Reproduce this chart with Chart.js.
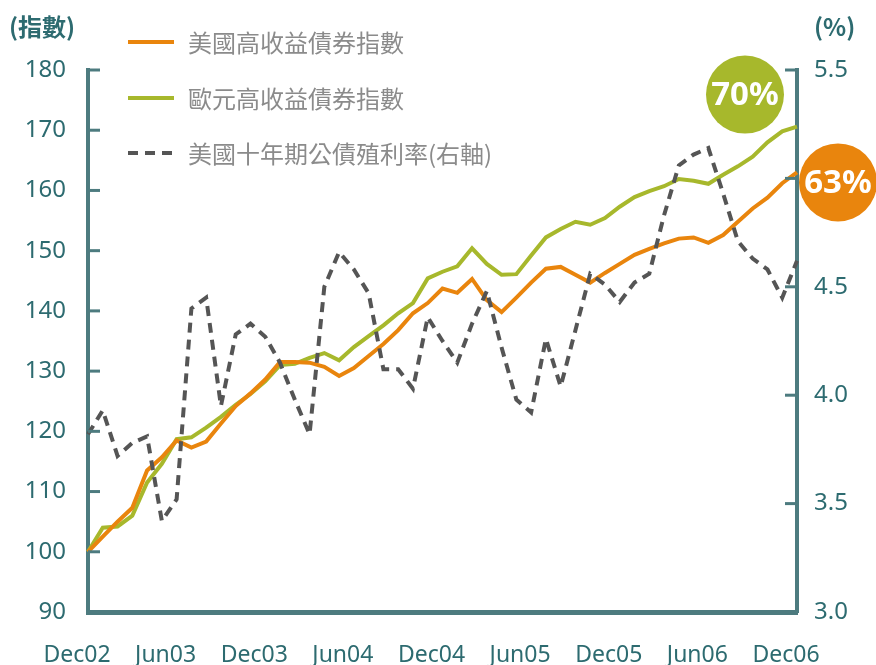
<!DOCTYPE html>
<html>
<head>
<meta charset="utf-8">
<script src="https://cdn.jsdelivr.net/npm/chart.js@4.4.1/dist/chart.umd.min.js"></script>
<style>
html, body { margin: 0; padding: 0; background: #fff; }
canvas { display: block; }
</style>
</head>
<body>
<canvas id="chart" width="876" height="665"></canvas>
<script>
// monthly, Dec02 .. Dec06
const months = [
  'Dec02','Jan03','Feb03','Mar03','Apr03','May03','Jun03','Jul03','Aug03','Sep03','Oct03','Nov03',
  'Dec03','Jan04','Feb04','Mar04','Apr04','May04','Jun04','Jul04','Aug04','Sep04','Oct04','Nov04',
  'Dec04','Jan05','Feb05','Mar05','Apr05','May05','Jun05','Jul05','Aug05','Sep05','Oct05','Nov05',
  'Dec05','Jan06','Feb06','Mar06','Apr06','May06','Jun06','Jul06','Aug06','Sep06','Oct06','Nov06',
  'Dec06'
];

const usHighYield = [
  100, 102.5, 105, 107.3, 113.5, 115.7, 118.5, 117.3, 118.3, 121.3, 124.2, 126.3,
  128.6, 131.5, 131.5, 131.4, 130.7, 129.2, 130.5, 132.5, 134.5, 136.8, 139.6, 141.3,
  143.7, 143.0, 145.3, 141.8, 139.8, 142.2, 144.7, 147.0, 147.3, 146.0, 144.7, 146.3,
  147.8, 149.3, 150.3, 151.2, 152.0, 152.2, 151.3, 152.6, 154.8, 157.0, 158.8, 161.2,
  163.0
];

const euroHighYield = [
  100, 104, 104.2, 106, 111.5, 114.6, 118.7, 119.0, 120.6, 122.4, 124.4, 126.2,
  128.3, 131, 131.2, 132.2, 133.0, 131.8, 134.0, 135.8, 137.6, 139.6, 141.3, 145.4,
  146.5, 147.4, 150.4, 147.8, 146.0, 146.1, 149.2, 152.2, 153.6, 154.8, 154.3, 155.4,
  157.3, 158.9, 159.9, 160.7, 161.9, 161.6, 161.1, 162.6, 164.0, 165.6, 168.0, 169.8,
  170.6
];

// right axis, %
const us10yYield = [
  3.82, 3.93, 3.72, 3.78, 3.81, 3.42, 3.52, 4.40, 4.45, 3.95, 4.28, 4.33,
  4.27, 4.15, 3.98, 3.82, 4.50, 4.66, 4.58, 4.47, 4.12, 4.12, 4.03, 4.36,
  4.25, 4.15, 4.33, 4.48, 4.22, 3.98, 3.92, 4.26, 4.04, 4.30, 4.56, 4.51,
  4.43, 4.52, 4.56, 4.83, 5.06, 5.11, 5.14, 4.93, 4.71, 4.63, 4.58, 4.45,
  4.62
];

const seriesNames = ['美國高收益債券指數', '歐元高收益債券指數', '美國十年期公債殖利率(右軸)'];
const bubbleLabels = ['63%', '70%'];

const orange = '#e9850d';
const green = '#a7b82c';
const grey = '#555555';
const axisColor = '#4d7b7f';
const tickColor = '#2d6b70';
const legendColor = '#8b8b8b';
const numFont = '"Noto Sans", "Open Sans", sans-serif';
const narrowFont = '"Liberation Sans Narrow", "Noto Sans", sans-serif';
const cjkFont = '"Noto Sans CJK TC", "Noto Sans", sans-serif';

const decor = {
  id: 'decor',
  afterDraw(chart) {
    const ctx = chart.ctx;
    const { x, y, y2 } = chart.scales;
    ctx.save();

    // inward tick marks
    ctx.strokeStyle = axisColor;
    ctx.lineWidth = 3;
    y.ticks.forEach(t => {
      const py = y.getPixelForValue(t.value);
      ctx.beginPath(); ctx.moveTo(y.right, py); ctx.lineTo(y.right + 12, py); ctx.stroke();
    });
    y2.ticks.forEach(t => {
      const py = y2.getPixelForValue(t.value);
      ctx.beginPath(); ctx.moveTo(y2.left, py); ctx.lineTo(y2.left - 12, py); ctx.stroke();
    });

    // axis titles
    ctx.fillStyle = tickColor;
    ctx.font = 'bold 24px ' + cjkFont;
    ctx.textBaseline = 'middle';
    ctx.textAlign = 'left';
    ctx.fillText('(指數)', 9, 27);
    ctx.fillText('(%)', 814, 27);

    // legend
    const rows = [
      { name: seriesNames[0], color: orange, dash: [] , yy: 42 },
      { name: seriesNames[1], color: green, dash: [], yy: 98 },
      { name: seriesNames[2], color: grey, dash: [10, 7], yy: 153 }
    ];
    rows.forEach(r => {
      ctx.strokeStyle = r.color;
      ctx.lineWidth = 4;
      ctx.setLineDash(r.dash);
      ctx.beginPath(); ctx.moveTo(128, r.yy); ctx.lineTo(174, r.yy); ctx.stroke();
      ctx.setLineDash([]);
      ctx.fillStyle = legendColor;
      ctx.font = '24px ' + cjkFont;
      ctx.fillText(r.name, 188, r.yy + 1);
    });

    // end-of-line bubbles
    const last = months.length - 1;
    const xl = x.getPixelForValue(last);
    const bubbles = [
      { text: bubbleLabels[1], color: green, cx: xl - 52, cy: y.getPixelForValue(euroHighYield[last]) - 32 },
      { text: bubbleLabels[0], color: orange, cx: xl + 41, cy: y.getPixelForValue(usHighYield[last]) + 10 }
    ];
    bubbles.forEach(b => {
      ctx.fillStyle = b.color;
      ctx.beginPath(); ctx.arc(b.cx, b.cy, 39, 0, Math.PI * 2); ctx.fill();
      ctx.fillStyle = '#fff';
      ctx.font = 'bold 33px ' + numFont;
      ctx.textAlign = 'center';
      ctx.fillText(b.text, b.cx, b.cy + 1);
    });
    ctx.restore();
  }
};

new Chart(document.getElementById('chart'), {
  type: 'line',
  data: {
    labels: months,
    datasets: [
      {
        label: seriesNames[2], data: us10yYield, yAxisID: 'y2',
        borderColor: grey, borderWidth: 4, borderDash: [10, 7],
        pointRadius: 0, tension: 0, fill: false
      },
      {
        label: seriesNames[0], data: usHighYield, yAxisID: 'y',
        borderColor: orange, borderWidth: 4, pointRadius: 0, tension: 0, fill: false
      },
      {
        label: seriesNames[1], data: euroHighYield, yAxisID: 'y',
        borderColor: green, borderWidth: 4, pointRadius: 0, tension: 0, fill: false
      }
    ]
  },
  options: {
    responsive: false,
    animation: false,
    layout: { padding: { top: 70, bottom: 0, left: 0, right: 0 } },
    plugins: { legend: { display: false }, tooltip: { enabled: false } },
    scales: {
      x: {
        offset: false,
        grid: { display: false, drawTicks: false },
        border: { display: true, color: axisColor, width: 5 },
        ticks: {
          autoSkip: false, maxRotation: 0, minRotation: 0,
          padding: 30, labelOffset: -11,
          color: tickColor, font: { family: narrowFont, size: 23 },
          callback: function (v, i) { return i % 6 === 0 ? this.getLabelForValue(v) : ''; }
        },
        afterFit: s => { s.height = 53; }
      },
      y: {
        position: 'left', min: 90, max: 180,
        grid: { display: false, drawTicks: false },
        border: { display: true, color: axisColor, width: 4 },
        ticks: { stepSize: 10, padding: 22, color: tickColor, font: { family: numFont, size: 24 } },
        afterFit: s => { s.width = 88; }
      },
      y2: {
        position: 'right', min: 3.0, max: 5.5,
        grid: { display: false, drawTicks: false },
        border: { display: true, color: axisColor, width: 4 },
        ticks: {
          stepSize: 0.5, padding: 17, color: tickColor, font: { family: numFont, size: 24 },
          callback: v => v.toFixed(1)
        },
        afterFit: s => { s.width = 79; }
      }
    }
  },
  plugins: [decor]
});
</script>
</body>
</html>
